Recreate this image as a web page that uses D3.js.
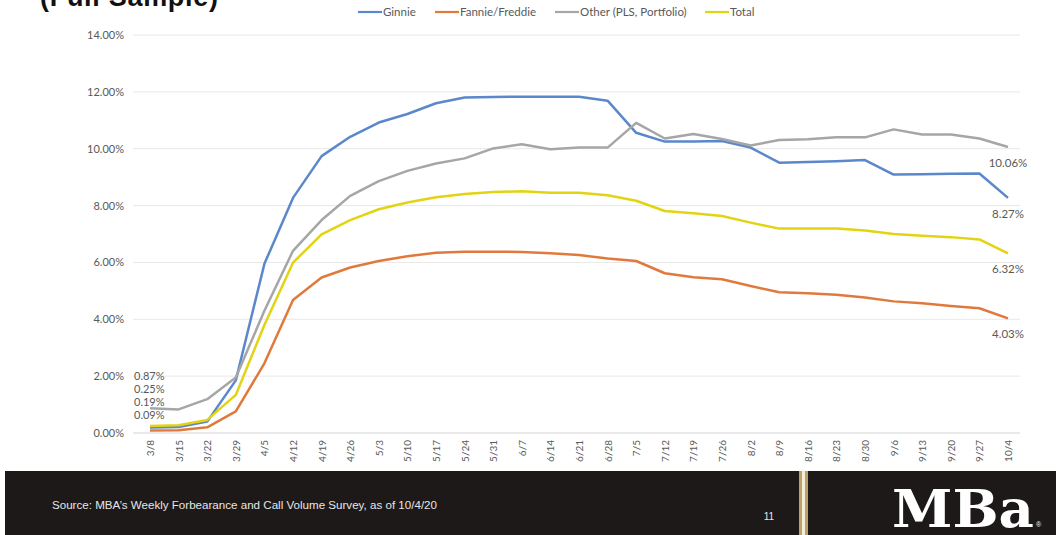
<!DOCTYPE html>
<html>
<head>
<meta charset="utf-8">
<script src="https://cdn.jsdelivr.net/npm/d3@7"></script>
<style>
  html, body { margin: 0; padding: 0; background: #ffffff; }
  svg { display: block; }
</style>
</head>
<body>
<svg id="chart" width="1056" height="535"></svg>
<script>
// Weekly forbearance share by investor type, full sample
const weeks = ["3/8","3/15","3/22","3/29","4/5","4/12","4/19","4/26","5/3","5/10","5/17","5/24","5/31",
  "6/7","6/14","6/21","6/28","7/5","7/12","7/19","7/26","8/2","8/9","8/16","8/23","8/30",
  "9/6","9/13","9/20","9/27","10/4"];

const ginnie = [0.19,0.21,0.40,1.85,5.95,8.27,9.74,10.42,10.92,11.22,11.60,11.80,11.82,
  11.83,11.83,11.83,11.69,10.56,10.25,10.25,10.27,10.04,9.51,9.53,9.56,9.60,
  9.09,9.10,9.12,9.13,8.27];

const fannieFreddie = [0.09,0.10,0.20,0.76,2.45,4.68,5.47,5.82,6.05,6.22,6.34,6.38,6.38,
  6.37,6.32,6.26,6.14,6.05,5.62,5.48,5.41,5.17,4.95,4.92,4.86,4.77,
  4.63,4.56,4.47,4.39,4.03];

const other = [0.87,0.83,1.19,1.95,4.30,6.41,7.49,8.34,8.86,9.22,9.48,9.66,10.01,
  10.16,9.98,10.04,10.04,10.91,10.36,10.52,10.34,10.11,10.31,10.33,10.40,10.40,
  10.68,10.50,10.50,10.36,10.06];

const total = [0.25,0.27,0.46,1.34,3.80,5.99,6.99,7.49,7.87,8.11,8.29,8.41,8.48,
  8.50,8.45,8.45,8.36,8.17,7.81,7.73,7.63,7.40,7.19,7.19,7.19,7.12,
  7.00,6.94,6.89,6.81,6.32];

const yTicks = [0, 2, 4, 6, 8, 10, 12, 14];

const seriesNames = ["Ginnie", "Fannie/Freddie", "Other (PLS, Portfolio)", "Total"];
const seriesColors = ["#5b87cb", "#e07a3c", "#a6a6a6", "#e2d412"];
const seriesValues = [ginnie, fannieFreddie, other, total];

const series = seriesNames.map((name, i) => ({
  name, color: seriesColors[i], values: seriesValues[i]
}));

const svg = d3.select("#chart");
const labelFont = "Lato, 'Open Sans', sans-serif";
const textGrey = "#595959";

const x = d3.scalePoint().domain(weeks).range([150, 1008]);
const y = d3.scaleLinear().domain([0, 14]).range([433, 35]);
const fmt = v => v.toFixed(2) + "%";

// Partially visible slide heading
svg.append("text")
  .attr("x", 40).attr("y", 6)
  .attr("font-family", "Arial, 'Liberation Sans', sans-serif")
  .attr("font-weight", "bold")
  .attr("font-size", 27)
  .attr("textLength", 178)
  .attr("fill", "#111")
  .text("(Full Sample)");

// Horizontal gridlines
svg.append("g")
  .selectAll("line")
  .data(yTicks)
  .join("line")
  .attr("x1", 133).attr("x2", 1020)
  .attr("y1", d => y(d)).attr("y2", d => y(d))
  .attr("stroke", d => d === 0 ? "#d4d4d4" : "#e8e8e8")
  .attr("stroke-width", 1);

// Y axis labels
const yAxis = d3.axisLeft(y).tickValues(yTicks).tickFormat(fmt).tickSize(0).tickPadding(0);
const gy = svg.append("g").attr("transform", "translate(124,0)").call(yAxis);
gy.select(".domain").remove();
gy.selectAll("text")
  .attr("font-family", labelFont)
  .attr("font-size", 11)
  .attr("fill", textGrey);

// X axis labels, rotated
const xAxis = d3.axisBottom(x).tickSize(0).tickPadding(0);
const gx = svg.append("g").attr("transform", "translate(0,440)").call(xAxis);
gx.select(".domain").remove();
gx.selectAll("text")
  .attr("font-family", labelFont)
  .attr("font-size", 10)
  .attr("fill", textGrey)
  .attr("text-anchor", "end")
  .attr("dy", "0.35em")
  .attr("transform", "rotate(-90)")
  .attr("x", 0).attr("y", 0);

// Series lines
const line = d3.line()
  .x((d, i) => x(weeks[i]))
  .y(d => y(d));

svg.append("g")
  .selectAll("path")
  .data(series)
  .join("path")
  .attr("d", d => line(d.values))
  .attr("fill", "none")
  .attr("stroke", d => d.color)
  .attr("stroke-width", 2.5)
  .attr("stroke-linejoin", "round");

// Starting values, stacked at the left
const starts = series.map(s => s.values[0]).sort((a, b) => b - a);
svg.append("g")
  .selectAll("text")
  .data(starts)
  .join("text")
  .attr("x", 134)
  .attr("y", (d, i) => 380 + i * 13)
  .attr("font-family", labelFont)
  .attr("font-size", 11)
  .attr("fill", textGrey)
  .text(fmt);

// Latest values below each line end
const last = weeks.length - 1;
svg.append("g")
  .selectAll("text")
  .data(series)
  .join("text")
  .attr("x", x(weeks[last]))
  .attr("y", d => y(d.values[last]) + 20)
  .attr("text-anchor", "middle")
  .attr("font-family", labelFont)
  .attr("font-size", 11.5)
  .attr("fill", textGrey)
  .text(d => fmt(d.values[last]));

// Legend
const legendX = [358, 435, 555, 705];
const legend = svg.append("g")
  .selectAll("g")
  .data(series)
  .join("g")
  .attr("transform", (d, i) => `translate(${legendX[i]},12)`);
legend.append("line")
  .attr("x1", 0).attr("x2", 24)
  .attr("stroke", d => d.color)
  .attr("stroke-width", 2.2);
legend.append("text")
  .attr("x", 25).attr("y", 4)
  .attr("font-family", labelFont)
  .attr("font-size", 11.5)
  .attr("fill", textGrey)
  .text(d => d.name);

// Footer band
const footer = svg.append("g");
footer.append("rect")
  .attr("x", 5).attr("y", 471).attr("width", 1051).attr("height", 64)
  .attr("fill", "#1d1919");
footer.append("rect")
  .attr("x", 799).attr("y", 471).attr("width", 9).attr("height", 64)
  .attr("fill", "#bba16a");
footer.append("rect")
  .attr("x", 802).attr("y", 471).attr("width", 3).attr("height", 64)
  .attr("fill", "#f4edd8");
footer.append("text")
  .attr("x", 52).attr("y", 509)
  .attr("font-family", "'Liberation Sans', Arial, sans-serif")
  .attr("font-size", 10)
  .attr("textLength", 385)
  .attr("lengthAdjust", "spacingAndGlyphs")
  .attr("fill", "#e6e6e6")
  .text("Source: MBA\u2019s Weekly Forbearance and Call Volume Survey, as of 10/4/20");
footer.append("text")
  .attr("x", 769).attr("y", 520)
  .attr("text-anchor", "middle")
  .attr("font-family", "'Liberation Sans', Arial, sans-serif")
  .attr("font-size", 10)
  .attr("fill", "#e6e6e6")
  .text("11");
footer.append("text")
  .attr("x", 892).attr("y", 527)
  .attr("font-family", "'DejaVu Serif', serif")
  .attr("font-weight", "bold")
  .attr("font-size", 52)
  .attr("textLength", 142)
  .attr("lengthAdjust", "spacingAndGlyphs")
  .attr("fill", "#ffffff")
  .text("MBa");
footer.append("text")
  .attr("x", 1036).attr("y", 527)
  .attr("font-family", "'Liberation Sans', Arial, sans-serif")
  .attr("font-size", 7)
  .attr("fill", "#ffffff")
  .text("\u00ae");
</script>
</body>
</html>
